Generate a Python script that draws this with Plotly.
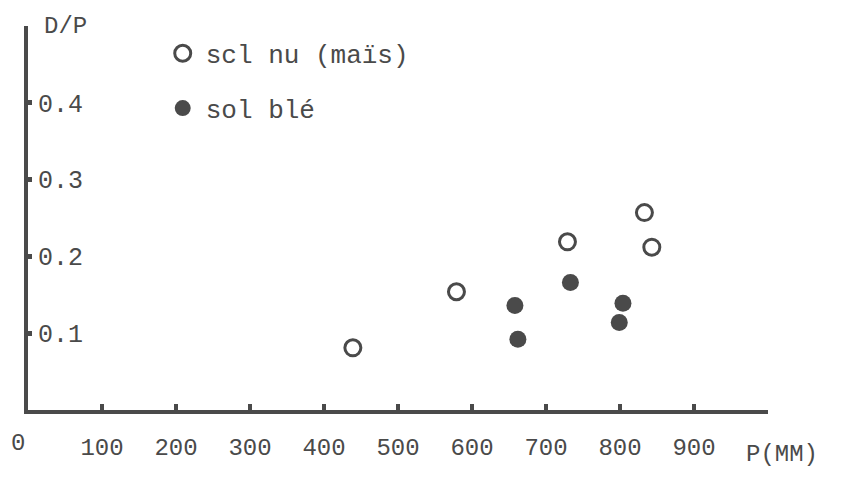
import plotly.graph_objects as go

# Precipitation P (mm) and ratio D/P for the two soil covers
p_sol_nu = [439, 579, 729, 833, 843]
dp_sol_nu = [0.081, 0.154, 0.219, 0.257, 0.212]

p_sol_ble = [658, 662, 733, 804, 799]
dp_sol_ble = [0.136, 0.092, 0.166, 0.139, 0.114]

x_ticks = [100, 200, 300, 400, 500, 600, 700, 800, 900]
y_ticks = [0.1, 0.2, 0.3, 0.4]
y_tick_text = ["0.1", "0.2", "0.3", "0.4"]

INK = "#4a4a4a"
FONT = "Liberation Mono"

fig = go.Figure()

fig.add_trace(go.Scatter(
    x=p_sol_nu, y=dp_sol_nu, mode="markers", name="scl nu (maïs)",
    legendgroup="nu",
    marker=dict(symbol="circle-open", size=16, color=INK, line=dict(width=3, color=INK)),
))
fig.add_trace(go.Scatter(
    x=p_sol_ble, y=dp_sol_ble, mode="markers", name="sol blé",
    legendgroup="ble",
    marker=dict(symbol="circle", size=17, color=INK),
))

fig.update_layout(
    width=848, height=477,
    margin=dict(l=28, r=80, t=26, b=67),
    paper_bgcolor="white", plot_bgcolor="white",
    font=dict(family=FONT, color=INK, size=24),
    showlegend=True,
    legend=dict(
        x=0.178, y=0.99, xanchor="left", yanchor="top",
        font=dict(family=FONT, size=26, color=INK),
        bgcolor="rgba(0,0,0,0)", tracegroupgap=18, itemwidth=36,
    ),
    xaxis=dict(
        range=[0, 1000], showgrid=False, zeroline=False,
        showline=True, linewidth=4, linecolor=INK,
        tickvals=x_ticks, ticktext=[str(v) for v in x_ticks],
        ticks="inside", ticklen=6, tickwidth=4, tickcolor=INK,
        ticklabelstandoff=12,
        tickfont=dict(family=FONT, size=24, color=INK),
    ),
    yaxis=dict(
        range=[0, 0.5], showgrid=False, zeroline=False,
        showline=True, linewidth=4, linecolor=INK,
        tickvals=y_ticks, ticktext=y_tick_text,
        ticks="inside", ticklen=4, tickwidth=5, tickcolor=INK,
        ticklabelposition="inside", ticklabelstandoff=8,
        tickfont=dict(family=FONT, size=25, color=INK),
    ),
    annotations=[
        dict(text="D/P", xref="paper", yref="y", x=0, y=0.5,
             xanchor="left", yanchor="middle", xshift=14, showarrow=False,
             font=dict(family=FONT, size=24, color=INK)),
        dict(text="0", xref="paper", yref="paper", x=0, y=0,
             xanchor="center", yanchor="middle", xshift=-10, yshift=-33,
             showarrow=False, font=dict(family=FONT, size=24, color=INK)),
        dict(text="P(MM)", xref="paper", yref="paper", x=1.019, y=0,
             xanchor="center", yanchor="middle", yshift=-44, showarrow=False,
             font=dict(family=FONT, size=24, color=INK)),
    ],
)

fig.write_html("out.html")
